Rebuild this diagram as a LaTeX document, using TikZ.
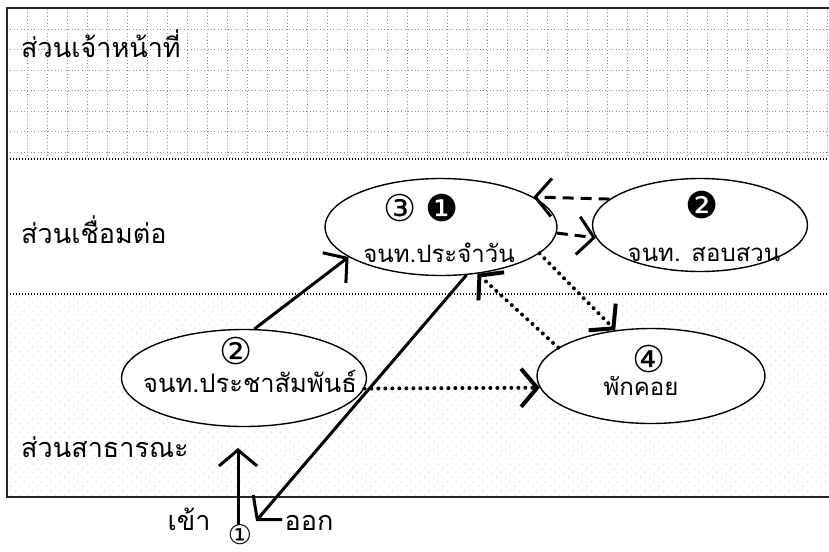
\documentclass[tikz,border=0pt]{standalone}
\usepackage{fontspec}
\newfontfamily\thai[Script=Thai]{Loma}
\newfontfamily\sym{DejaVu Sans}
\usetikzlibrary{shapes.geometric,arrows.meta,patterns.meta}

\tikzdeclarepattern{
  name=stipple, type=colored,
  bottom left={(0pt,0pt)}, top right={(9pt,9pt)}, tile size={(9pt,9pt)},
  code={\fill[black!30] (2pt,2pt) circle (0.6pt); \fill[black!30] (6.5pt,6.5pt) circle (0.6pt);}
}

\tikzset{
  bubble/.style={draw, ellipse, line width=1.4pt, fill=white, inner sep=0pt},
  lbl/.style={font=\thai\fontsize{24}{28}\selectfont, inner sep=0pt, anchor=base},
  band/.style={font=\thai\fontsize{27}{30}\selectfont, inner sep=0pt, anchor=base west},
  num/.style={font=\sym\fontsize{37}{40}\selectfont, inner sep=0pt},
  barb/.style={-{Straight Barb[length=16pt,width=38pt]}},
  solidarr/.style={barb, line width=3pt},
  dasharr/.style={barb, line width=3pt, dash pattern=on 11pt off 7pt},
  dotarr/.style={barb, line width=4pt, line cap=round, dash pattern=on 0pt off 7pt},
  gridline/.style={black!45, line width=0.8pt, dash pattern=on 0.8pt off 2.6pt},
}

\begin{document}
\begin{tikzpicture}[x=1pt,y=-1pt]
\useasboundingbox (0,0) rectangle (829,551);

% bands
\fill[pattern=stipple] (7,294) rectangle (829,497);
\foreach \gx in {27,47,...,827} \draw[gridline] (\gx,9) -- (\gx,158);
\foreach \gy in {29,49.5,70,90.5,111,131.5,152} \draw[gridline] (7,\gy) -- (829,\gy);
\draw[line width=1.9pt, dash pattern=on 1.3pt off 1.7pt] (7,159) -- (829,159);
\draw[line width=1.3pt, dash pattern=on 1pt off 2pt] (7,294) -- (829,294);
\draw[line width=2pt, black!85] (829,8) -- (7,8) -- (7,497) -- (829,497);

% band labels
\node[band] (t1) at (21,58) {ส่วนเจ้าหน้าที่};
\node[band] (t2) at (21,243) {ส่วนเชื่อมต่อ};
\node[band] (t3) at (21,457) {ส่วนสาธารณะ};

% ellipses
\node[bubble, minimum width=232pt, minimum height=97pt] (pr) at (441,227) {};
\node[bubble, minimum width=215pt, minimum height=93pt] (sb) at (700,225) {};
\node[bubble, minimum width=245pt, minimum height=97pt] (ps) at (244,378) {};
\node[bubble, minimum width=228pt, minimum height=95pt] (pk) at (651,376) {};

% texts in ellipses
\node[num] (n3) at (400,208) {③};
\node[num] (b1) at (442,208) {❶};
\node[lbl] (tpr) at (439,262) {จนท.ประจำวัน};
\node[num] (b2) at (702,205) {❷};
\node[lbl] (tsb) at (704,261) {จนท. สอบสวน};
\node[num] (n2) at (236,351) {②};
\node[lbl, font=\thai\fontsize{25.5}{28}\selectfont] (tps) at (250,392) {จนท.ประชาสัมพันธ์};
\node[num] (n4) at (649,359) {④};
\node[lbl] (tpk) at (641,395) {พักคอย};

% entry / exit
\node[lbl, font=\thai\fontsize{27}{30}\selectfont] (tin) at (189,530) {เข้า};
\node[lbl, font=\thai\fontsize{27}{30}\selectfont] (tout) at (309,530) {ออก};
\node[num, font=\sym\fontsize{27}{29}\selectfont] (n1) at (240,535) {①};
\coordinate (inbot) at (238,525);
\coordinate (intop) at (238,448);
\coordinate (outend) at (256,521);

% connectors
\draw[solidarr] (inbot) -- (intop);
\draw[solidarr] (ps.78) -- (pr.198);
\draw[solidarr] (pr.-62) -- (outend);
\draw[dasharr] (sb.164) -- (pr.18);
\draw[dasharr] (pr.-3) -- (sb.187);
\draw[dotarr] (pr.-15) -- (pk.128);
\draw[dotarr] (pk.163) -- (pr.-52);
\draw[dotarr] (ps.-5) -- (pk.186);
\end{tikzpicture}
\end{document}
